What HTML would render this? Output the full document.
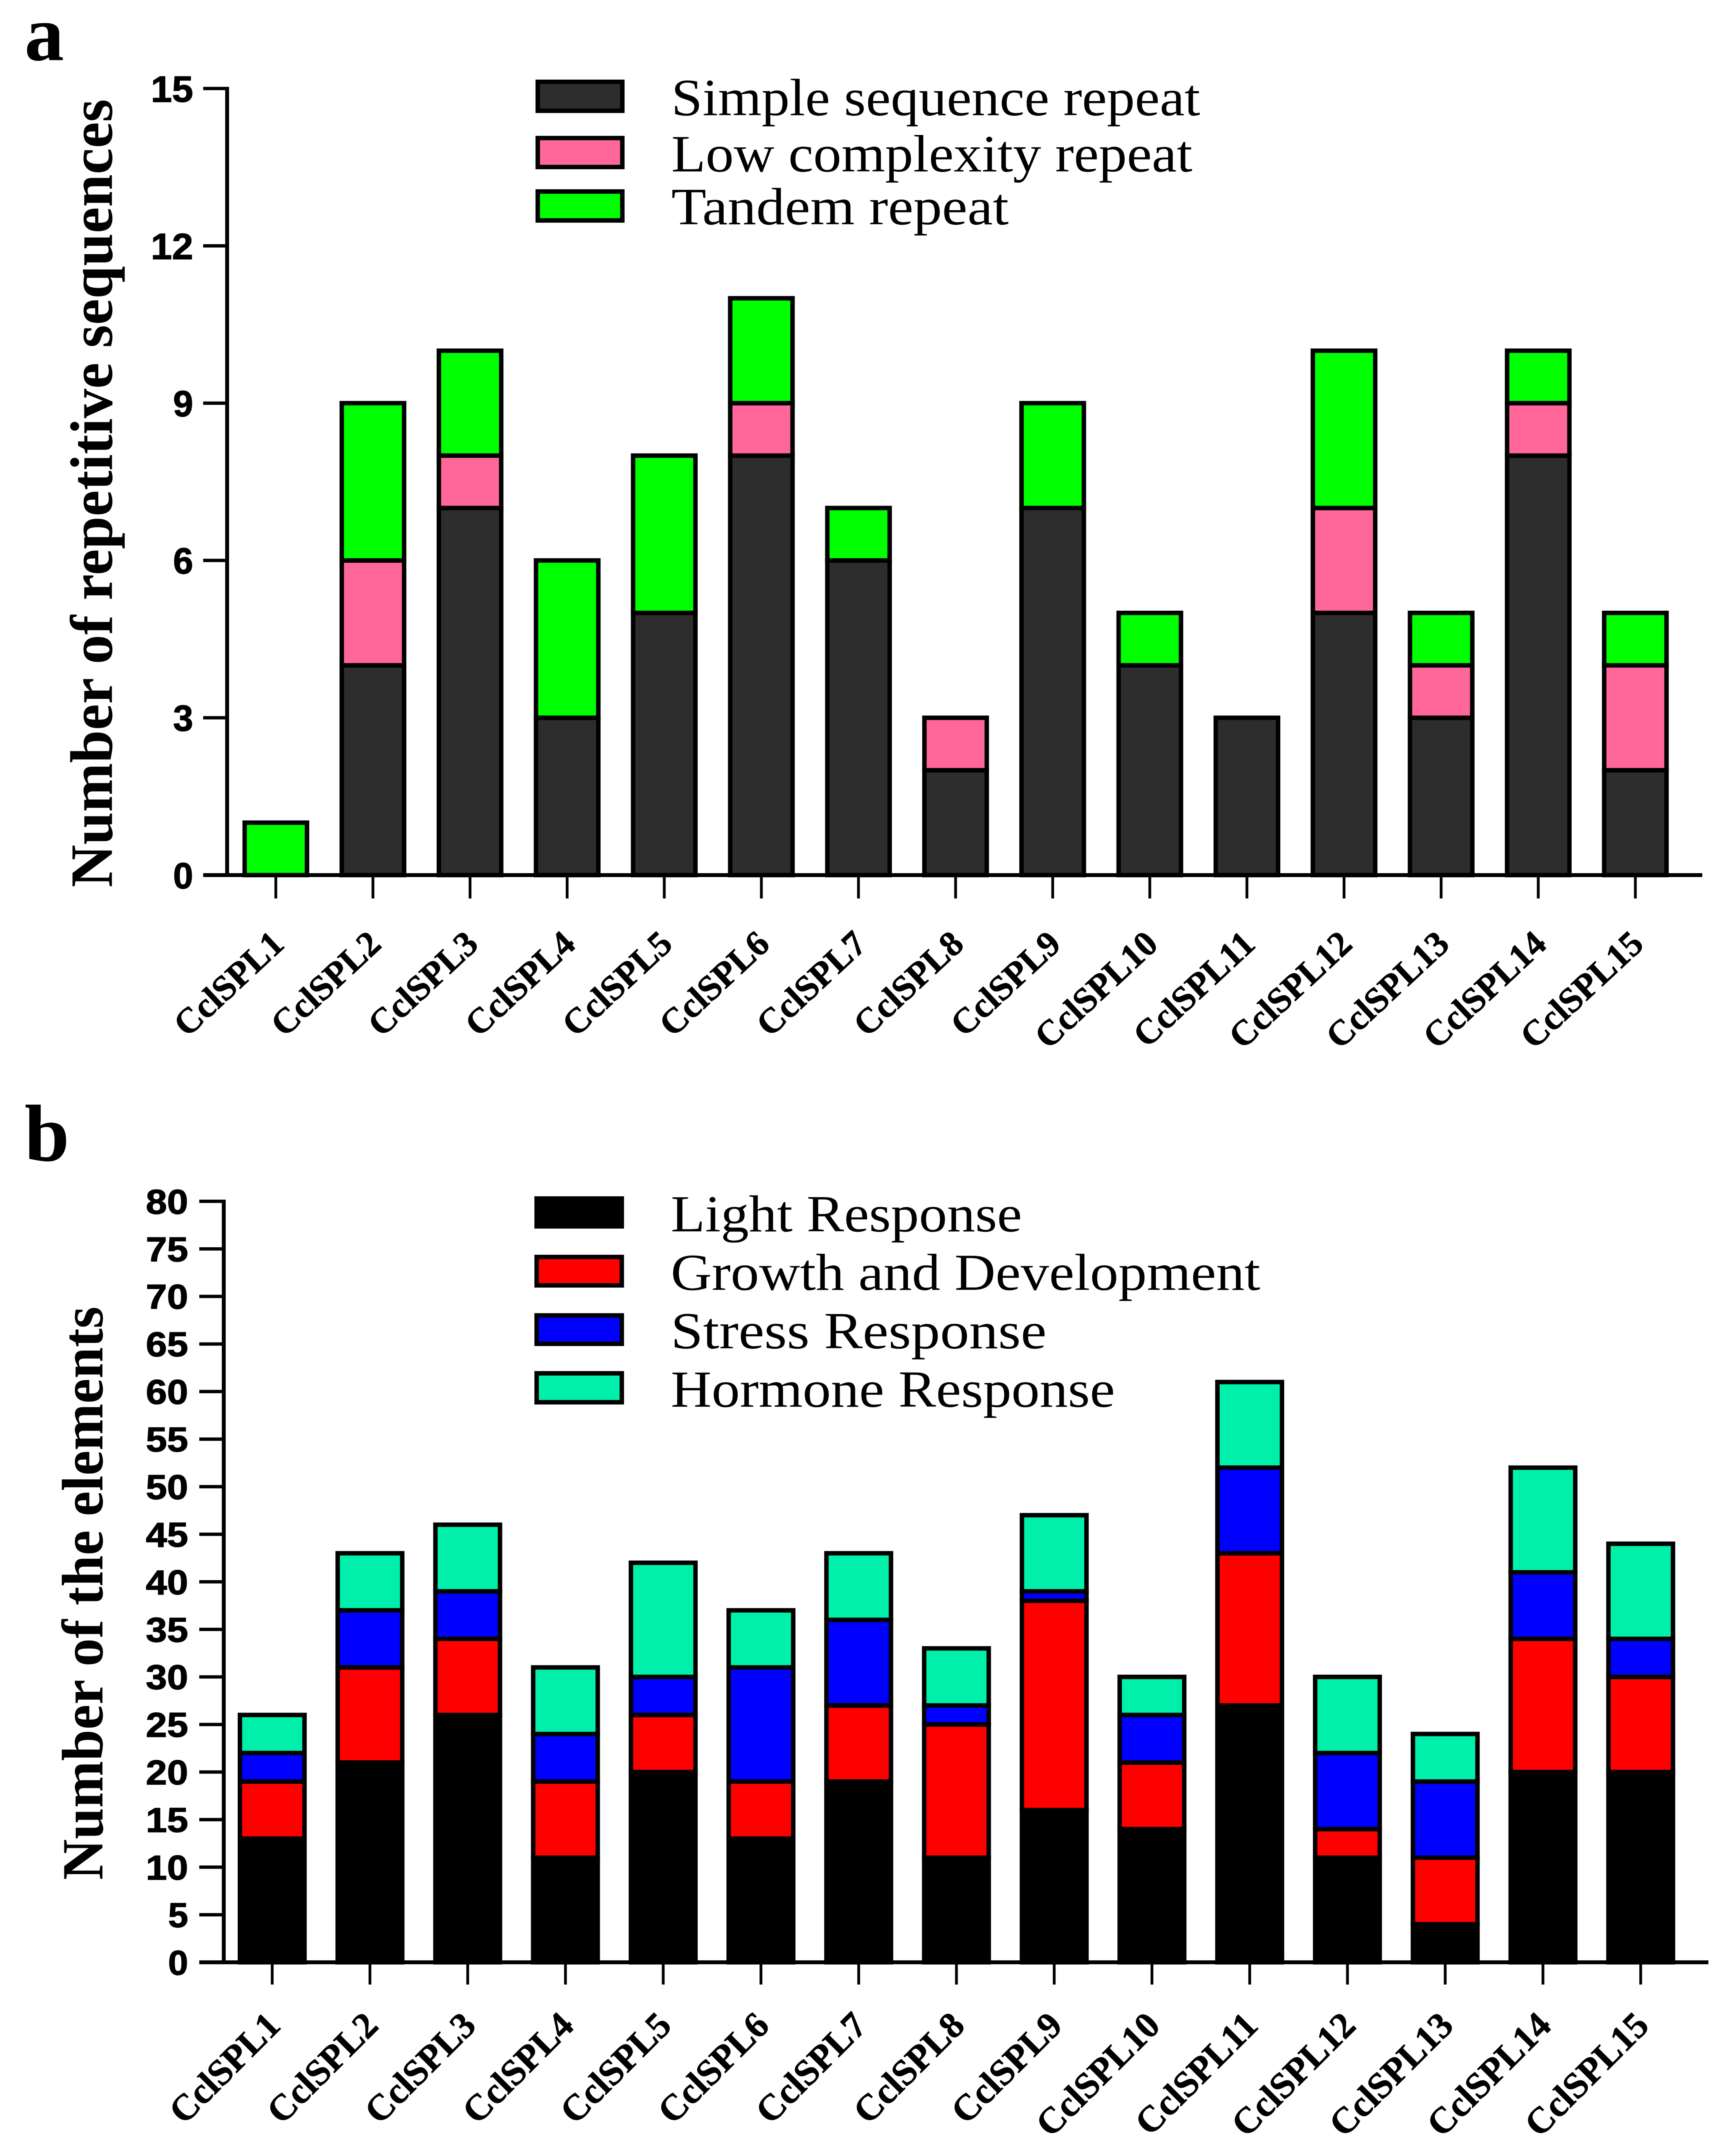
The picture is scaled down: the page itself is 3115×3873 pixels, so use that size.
<!DOCTYPE html>
<html lang="en">
<head>
<meta charset="utf-8">
<title>Repetitive sequences and cis-elements of CclSPL genes</title>
<style>
html,body{margin:0;padding:0;background:#fff;}
body{width:3115px;height:3873px;overflow:hidden;}
svg{display:block;filter:blur(0.8px);}
text{fill:#000;}
.serif{font-family:"Liberation Serif",serif;}
.sans{font-family:"Liberation Sans",sans-serif;font-weight:bold;stroke:#000;stroke-width:1.2px;}
.xlab{stroke:#000;stroke-width:0.8px;}
</style>
</head>
<body>
<svg id="figure" xmlns="http://www.w3.org/2000/svg" width="3115" height="3873" viewBox="0 0 3115 3873">
  <rect width="3115" height="3873" fill="#ffffff"/>
  <text class="serif" x="44" y="108" font-size="142" font-weight="bold">a</text>
  <text class="serif" x="44" y="2085" font-size="145" font-weight="bold">b</text>
  <text class="serif" transform="translate(201,1594) rotate(-90)" font-size="108" font-weight="bold" textLength="1416" lengthAdjust="spacingAndGlyphs">Number of repetitive sequences</text>
  <text class="serif" transform="translate(184,3377) rotate(-90)" font-size="105" font-weight="bold" textLength="1030" lengthAdjust="spacingAndGlyphs">Number of the elements</text>
  <g id="panel-a"></g>
  <g id="panel-b"></g>
</svg>
<script>
const categories = ['CclSPL1','CclSPL2','CclSPL3','CclSPL4','CclSPL5','CclSPL6','CclSPL7','CclSPL8','CclSPL9','CclSPL10','CclSPL11','CclSPL12','CclSPL13','CclSPL14','CclSPL15'];

const simpleRepeat  = [0,4,7,3,5,8,6,2,7,4,3,5,3,8,2];
const lowComplexity = [0,2,1,0,0,1,0,1,0,0,0,2,1,1,2];
const tandemRepeat  = [1,3,2,3,3,2,1,0,2,1,0,3,1,1,1];
const panelATicks = [0,3,6,9,12,15];

const lightResponse  = [13,21,26,11,20,13,19,11,16,14,27,11,4,20,20];
const growthDev      = [6,10,8,8,6,6,8,14,22,7,16,3,7,14,10];
const stressResponse = [3,6,5,5,4,12,9,2,1,5,9,8,8,7,4];
const hormoneResponse= [4,6,7,7,12,6,7,6,8,4,9,8,5,11,10];
const panelBTicks = [0,5,10,15,20,25,30,35,40,45,50,55,60,65,70,75,80];

const legendNamesA = ['Simple sequence repeat','Low complexity repeat','Tandem repeat'];
const legendNamesB = ['Light Response','Growth and Development','Stress Response','Hormone Response'];

const NS = 'http://www.w3.org/2000/svg';

function node(parent, tag, attrs, name) {
  const el = document.createElementNS(NS, tag);
  for (const k in attrs) el.setAttribute(k, attrs[k]);
  
  
  parent.appendChild(el);
  return el;
}

function drawChart(cfg) {
  const g = document.getElementById(cfg.id);
  const yScale = v => cfg.y0 + (cfg.yTop - cfg.y0) * v / cfg.yMax;
  const xScale = i => cfg.x0 + cfg.step * i;

  cfg.series.forEach((s, si) => {
    s.values.forEach((v, i) => {
      if (!v) return;
      let base = 0;
      for (let k = 0; k < si; k++) base += cfg.series[k].values[i];
      const top = yScale(base + v), bot = yScale(base);
      node(g, 'rect', {
        x: xScale(i) - cfg.barW / 2, y: top, width: cfg.barW, height: bot - top,
        fill: s.color, stroke: '#000', 'stroke-width': cfg.barStroke
      }, 'bar-' + s.key + '-' + categories[i].toLowerCase());
    });
  });

  node(g, 'line', {x1: cfg.axisX, y1: cfg.yTop - 3, x2: cfg.axisX, y2: cfg.y0 + 3, stroke: '#000', 'stroke-width': 7}, 'y-axis-line');
  node(g, 'line', {x1: cfg.tickLeft, y1: cfg.y0, x2: cfg.axisEnd, y2: cfg.y0, stroke: '#000', 'stroke-width': 7}, 'x-axis-line');

  cfg.ticks.forEach(t => {
    const y = yScale(t);
    node(g, 'line', {x1: cfg.tickLeft, y1: y, x2: cfg.axisX, y2: y, stroke: '#000', 'stroke-width': 6}, 'y-tick-' + t);
    const lab = node(g, 'text', {
      class: 'sans', x: cfg.tickLabelRight, y: y + cfg.tickFont * 0.36, 'font-size': cfg.tickFont,
      'text-anchor': 'end', textLength: String(t).length > 1 ? 76 : 36, lengthAdjust: 'spacingAndGlyphs'
    }, 'y-tick-label-' + t);
    lab.textContent = t;
  });

  categories.forEach((c, i) => {
    const x = xScale(i);
    node(g, 'line', {x1: x, y1: cfg.y0, x2: x, y2: cfg.xTickEnd, stroke: '#000', 'stroke-width': 5}, 'x-tick-' + c.toLowerCase());
    const lab = node(g, 'text', {
      class: 'serif xlab', 'font-size': cfg.xFont, 'font-weight': 'bold', 'text-anchor': 'end',
      transform: 'translate(' + (x + cfg.xLabelDx) + ',' + (cfg.y0 + cfg.xLabelDy) + ') rotate(' + cfg.xAngle + ')'
    }, 'x-tick-label-' + c.toLowerCase());
    lab.textContent = c;
  });

  cfg.legend.forEach((l, i) => {
    const p = cfg.legendPos[i];
    node(g, 'rect', {
      x: cfg.swatchX + 4, y: p.top + 4, width: cfg.swatchW - 8, height: p.h - 8,
      fill: cfg.series[i].color, stroke: '#000', 'stroke-width': 8
    }, 'legend-swatch-' + cfg.series[i].key);
    const t = node(g, 'text', {
      class: 'serif', x: cfg.legendTextX, y: p.base, 'font-size': cfg.legendFont,
      textLength: p.w, lengthAdjust: 'spacingAndGlyphs'
    }, 'legend-label-' + cfg.series[i].key);
    t.textContent = l;
  });
}

drawChart({
  id: 'panel-a', y0: 1572, yTop: 159, yMax: 15, x0: 495.5, step: 174.45, barW: 112, barStroke: 8,
  axisX: 408, tickLeft: 365, axisEnd: 3058, xTickEnd: 1614, tickLabelRight: 347, tickFont: 66,
  xFont: 64, xLabelDx: 18, xLabelDy: 128, xAngle: -43,
  ticks: panelATicks, legend: legendNamesA,
  series: [
    {key: 'simple-sequence-repeat', color: '#2d2d2d', values: simpleRepeat},
    {key: 'low-complexity-repeat', color: '#ff6699', values: lowComplexity},
    {key: 'tandem-repeat', color: '#00ff00', values: tandemRepeat}
  ],
  swatchX: 962, swatchW: 160, legendTextX: 1206, legendFont: 94,
  legendPos: [{top: 143, h: 60, base: 207, w: 950}, {top: 244, h: 60, base: 308, w: 936}, {top: 340, h: 60, base: 403, w: 606}]
});

drawChart({
  id: 'panel-b', y0: 3525, yTop: 2158, yMax: 80, x0: 489, step: 175.6, barW: 116, barStroke: 8,
  axisX: 402, tickLeft: 358, axisEnd: 3069, xTickEnd: 3565, tickLabelRight: 338, tickFont: 62,
  xFont: 66, xLabelDx: 18, xLabelDy: 117, xAngle: -45,
  ticks: panelBTicks, legend: legendNamesB,
  series: [
    {key: 'light-response', color: '#000000', values: lightResponse},
    {key: 'growth-and-development', color: '#ff0000', values: growthDev},
    {key: 'stress-response', color: '#0000ff', values: stressResponse},
    {key: 'hormone-response', color: '#00f0ab', values: hormoneResponse}
  ],
  swatchX: 960, swatchW: 161, legendTextX: 1205, legendFont: 93,
  legendPos: [{top: 2149, h: 58, base: 2212, w: 631}, {top: 2254, h: 59, base: 2317, w: 1059}, {top: 2359, h: 59, base: 2422, w: 675}, {top: 2463, h: 60, base: 2527, w: 798}]
});
</script>
</body>
</html>
